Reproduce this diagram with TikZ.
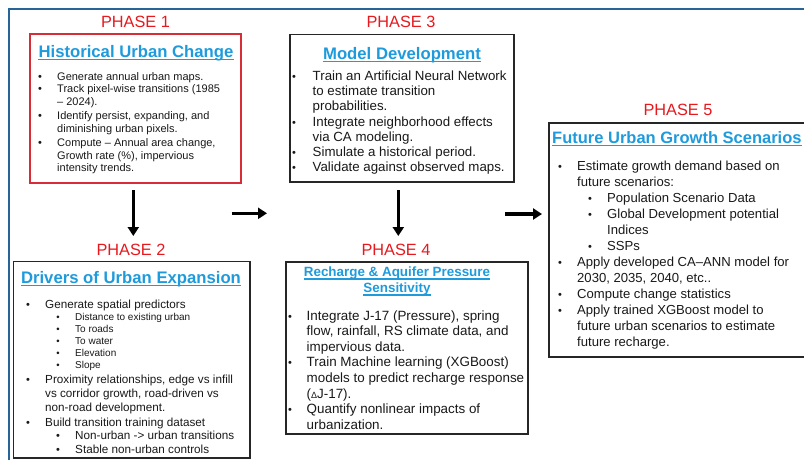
\documentclass[tikz,border=0pt]{standalone}
\usepackage{fontspec}
\setmainfont{Liberation Sans}
\usetikzlibrary{arrows.meta}
\definecolor{framecol}{RGB}{40,100,150}
\definecolor{phred}{RGB}{230,25,30}
\definecolor{boxred}{RGB}{215,45,55}
\definecolor{titcol}{RGB}{30,155,220}
\definecolor{txtcol}{RGB}{25,25,25}
\newcommand\mybl[5]{%
  \node[bul,anchor=base] (#1b) at (#2,#4) {\textbullet};
  \node[txt,anchor=base west] (#1) at (#3,#4) {#5};}
\newcommand\mytl[4]{%
  \node[txt,anchor=base west] (#1) at (#2,#3) {#4};}
\begin{document}
\begin{tikzpicture}[x=1pt,y=-1pt,
  txt/.style={inner sep=0pt,text=txtcol},
  bul/.style={inner sep=0pt,text=txtcol},
  phase/.style={inner sep=0pt,text=phred,font=\fontsize{16.3}{18}\selectfont},
  ttl/.style={inner sep=0pt,text=titcol,font=\bfseries\fontsize{16.7}{19}\selectfont},
  blkbox/.style={draw=black!85,line width=1.6pt,inner sep=0pt},
  redbox/.style={draw=boxred,line width=1.8pt,inner sep=0pt},
  ul/.style={titcol,line width=1.2pt},
  bigarrow/.style={line width=3.4pt,-{Triangle[length=9pt,width=11pt]}}]
\useasboundingbox (0,0) rectangle (804,459);
\clip (0,0) rectangle (804,459);
\fill[white] (0,0) rectangle (804,459);
% outer frame
\draw[framecol,line width=2pt] (9,470) -- (9,9) -- (820,9);
% boxes
\node[redbox,minimum width=211pt,minimum height=148.7pt] (p1) at (135.5,108.7) {};
\node[blkbox,minimum width=236.7pt,minimum height=196.3pt] (p2) at (131.7,359.8) {};
\node[blkbox,minimum width=224pt,minimum height=147.4pt] (p3) at (402,108) {};
\node[blkbox,minimum width=242.3pt,minimum height=172.3pt] (p4) at (406.9,347.9) {};
\node[blkbox,minimum width=271pt,minimum height=234pt] (p5) at (684.5,240) {};
% phase labels
\node[phase] (l1) at (135.5,21.7) {PHASE 1};
\node[phase] (l2) at (131,250) {PHASE 2};
\node[phase] (l3) at (401,21.7) {PHASE 3};
\node[phase] (l4) at (396,250) {PHASE 4};
\node[phase] (l5) at (678,110) {PHASE 5};
% titles
\node[ttl,anchor=base] (t1) at (136,57.5) {Historical Urban Change};
\node[ttl,anchor=base] (t2) at (131,283.5) {Drivers of Urban Expansion};
\node[ttl,anchor=base] (t3) at (402,59) {Model Development};
\node[ttl,anchor=base,font=\bfseries\fontsize{13.4}{15}\selectfont] (t4a) at (397,276.7) {Recharge \& Aquifer Pressure};
\node[ttl,anchor=base,font=\bfseries\fontsize{13.4}{15}\selectfont] (t4b) at (397,292.7) {Sensitivity};
\node[ttl,anchor=base west,font=\bfseries\fontsize{16.5}{19}\selectfont] (t5) at (552,143) {Future Urban Growth Scenarios};
\foreach \t in {t1,t2,t3,t4a,t4b,t5}{
  \draw[ul] ([yshift=-2.2pt]\t.base west) -- ([yshift=-2.2pt]\t.base east);}
% phase 1 text
\begin{scope}[txt/.append style={font=\fontsize{11}{13}\selectfont},bul/.append style={font=\fontsize{11}{13}\selectfont}]
\mybl{a1}{40}{57}{80}{Generate annual urban maps.}
\mybl{a2}{40}{57}{92.5}{Track pixel-wise transitions (1985}
\mytl{a3}{57}{105}{– 2024).}
\mybl{a4}{40}{57}{119.5}{Identify persist, expanding, and}
\mytl{a5}{57}{132}{diminishing urban pixels.}
\mybl{a6}{40}{57}{146.5}{Compute – Annual area change,}
\mytl{a7}{57}{159}{Growth rate (\%), impervious}
\mytl{a8}{57}{171.5}{intensity trends.}
\end{scope}
% phase 2 text
\begin{scope}[txt/.append style={font=\fontsize{11.7}{13}\selectfont},bul/.append style={font=\fontsize{11}{13}\selectfont}]
\mybl{b1}{28}{45}{308}{Generate spatial predictors}
\begin{scope}[txt/.append style={font=\fontsize{10}{12}\selectfont},bul/.append style={font=\fontsize{9.5}{12}\selectfont}]
\mybl{b2}{58}{75}{320.5}{Distance to existing urban}
\mybl{b3}{58}{75}{332.5}{To roads}
\mybl{b4}{58}{75}{344.5}{To water}
\mybl{b5}{58}{75}{356.5}{Elevation}
\mybl{b6}{58}{75}{368.5}{Slope}
\end{scope}
\mybl{b7}{28}{45}{383}{Proximity relationships, edge vs infill}
\mytl{b8}{45}{397}{vs corridor growth, road-driven vs}
\mytl{b9}{45}{411}{non-road development.}
\mybl{b10}{28}{45}{426}{Build transition training dataset}
\mybl{b11}{58}{75}{439.5}{Non-urban -> urban transitions}
\mybl{b12}{58}{75}{453.5}{Stable non-urban controls}
\end{scope}
% phase 3 text
\begin{scope}[txt/.append style={font=\fontsize{13.3}{15}\selectfont},bul/.append style={font=\fontsize{11}{13}\selectfont}]
\mybl{c1}{294}{312.5}{80.5}{Train an Artificial Neural Network}
\mytl{c2}{312.5}{95.5}{to estimate transition}
\mytl{c3}{312.5}{110.5}{probabilities.}
\mybl{c4}{294}{312.5}{126}{Integrate neighborhood effects}
\mytl{c5}{312.5}{141}{via CA modeling.}
\mybl{c6}{294}{312.5}{156}{Simulate a historical period.}
\mybl{c7}{294}{312.5}{171}{Validate against observed maps.}
\end{scope}
% phase 4 text
\begin{scope}[txt/.append style={font=\fontsize{13.4}{15}\selectfont},bul/.append style={font=\fontsize{11}{13}\selectfont}]
\mybl{d1}{290}{306.5}{320}{Integrate J-17 (Pressure), spring}
\mytl{d2}{306.5}{335.6}{flow, rainfall, RS climate data, and}
\mytl{d3}{306.5}{351.2}{impervious data.}
\mybl{d4}{290}{306.5}{366.8}{Train Machine learning (XGBoost)}
\mytl{d5}{306.5}{382.4}{models to predict recharge response}
\mytl{d6}{306.5}{398}{({\fontsize{9}{10}\selectfont Δ}J-17).}
\mybl{d7}{290}{306.5}{413.6}{Quantify nonlinear impacts of}
\mytl{d8}{306.5}{429.2}{urbanization.}
\end{scope}
% phase 5 text
\begin{scope}[txt/.append style={font=\fontsize{13.1}{15}\selectfont},bul/.append style={font=\fontsize{11}{13}\selectfont}]
\mybl{e1}{560}{577}{170}{Estimate growth demand based on}
\mytl{e2}{577}{186}{future scenarios:}
\mybl{e3}{590}{607}{202}{Population Scenario Data}
\mybl{e4}{590}{607}{218}{Global Development potential}
\mytl{e5}{607}{234}{Indices}
\mybl{e6}{590}{607}{250}{SSPs}
\mybl{e7}{560}{577}{266}{Apply developed CA–ANN model for}
\mytl{e8}{577}{282}{2030, 2035, 2040, etc..}
\mybl{e9}{560}{577}{298}{Compute change statistics}
\mybl{e10}{560}{577}{314}{Apply trained XGBoost model to}
\mytl{e11}{577}{330}{future urban scenarios to estimate}
\mytl{e12}{577}{346}{future recharge.}
\end{scope}
% arrows
\coordinate (a1s) at (133.3,190);
\coordinate (a1e) at (133.3,236);
\coordinate (a3s) at (398.3,190);
\coordinate (a3e) at (398.3,236);
\coordinate (r1s) at (231.5,213.3);
\coordinate (r1e) at (267,213.3);
\coordinate (r2s) at (505,214);
\coordinate (r2e) at (542,214);
\draw[bigarrow] (a1s) -- (a1e);
\draw[bigarrow] (a3s) -- (a3e);
\draw[bigarrow] (r1s) -- (r1e);
\draw[bigarrow] (r2s) -- (r2e);
\end{tikzpicture}
\end{document}
